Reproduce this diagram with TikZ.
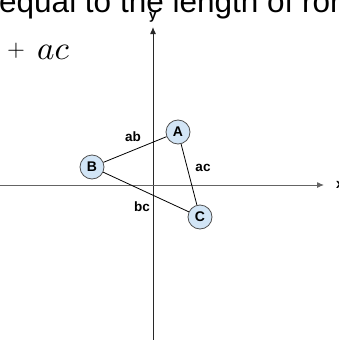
\documentclass[tikz,border=0pt]{standalone}
\usepackage{fontspec}
\setsansfont{Liberation Sans}
\usetikzlibrary{arrows.meta}
\definecolor{nodefill}{RGB}{210,229,246}
\definecolor{nodeline}{RGB}{80,80,80}
\definecolor{xaxiscol}{RGB}{100,100,100}
\definecolor{yaxiscol}{RGB}{40,40,40}
\begin{document}
\begin{tikzpicture}[x=1pt,y=-1pt,
  vertex/.style={circle,draw=nodeline,fill=nodefill,line width=0.8pt,minimum size=24pt,inner sep=0pt,font=\sffamily\bfseries\fontsize{14}{16}\selectfont},
  edgelabel/.style={font=\sffamily\bfseries\fontsize{13.5}{16}\selectfont,inner sep=0pt},
  axisline/.style={line width=1pt,-{Latex[length=7pt,width=6pt]}},
  conn/.style={line width=0.8pt,draw=black}]
\useasboundingbox (0,0) rectangle (339,340);
\clip (0,0) rectangle (339,340);
\node[anchor=base west,inner sep=0pt,font=\sffamily\fontsize{31.5}{36}\selectfont] (title) at (-1,12.5) {equal to the length of ror};
\node[anchor=base west,inner sep=0pt,font=\normalsize] (eq) at (7,59) {\raisebox{2.5pt}{\scalebox{2.3}{$+$}}\hspace{12pt}\scalebox{3.3}{$ac$}};
\coordinate (ybot) at (153,340);
\coordinate (ytop) at (153,27);
\coordinate (xleft) at (0,185);
\coordinate (xright) at (324,185);
\draw[axisline,draw=yaxiscol] (ybot) -- (ytop);
\draw[axisline,draw=xaxiscol] (xleft) -- (xright);
\node[edgelabel] (ylab) at (153,17) {y};
\node[edgelabel,anchor=west] (xlab) at (336,185) {x};
\node[vertex] (A) at (178,132) {A};
\node[vertex] (B) at (92,167) {B};
\node[vertex] (C) at (200,217) {C};
\draw[conn] (A) -- (B);
\draw[conn] (A) -- (C);
\draw[conn] (B) -- (C);
\node[edgelabel] (ab) at (133,137) {ab};
\node[edgelabel] (ac) at (203,168) {ac};
\node[edgelabel] (bc) at (142,207) {bc};
\end{tikzpicture}
\end{document}
